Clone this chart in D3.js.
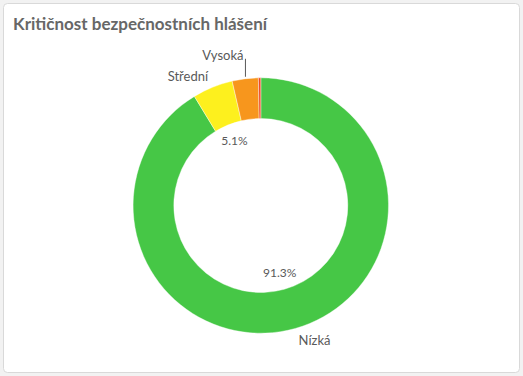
<!DOCTYPE html>
<html><head><meta charset="utf-8">
<script src="https://cdn.jsdelivr.net/npm/d3@7"></script>
<style>
html,body{margin:0;padding:0;background:#f2f2f2;}
svg{display:block;}
</style></head>
<body>
<svg id="chart" width="523" height="376"></svg>
<script>
const categories = ["Nízká", "Střední", "Vysoká", "Kritická"];
const values = [91.3, 5.1, 3.3, 0.3];
const colors = ["#46c746", "#fdf01e", "#f7961d", "#ee4a22"];
const valueLabels = ["91.3%", "5.1%", "", ""];
const showName = [true, true, true, false];
const title = "Kritičnost bezpečnostních hlášení";

const svg = d3.select("#chart");
svg.append("rect").attr("x", 3.5).attr("y", 3.5).attr("width", 516).attr("height", 369)
  .attr("rx", 4).attr("fill", "#fff").attr("stroke", "#d9d9d9");

svg.append("text").attr("x", 13).attr("y", 29.5).text(title)
  .attr("font-family", "Lato, 'Open Sans', sans-serif").attr("font-weight", 700)
  .attr("font-size", 17).attr("fill", "#676767");

const cx = 260.8, cy = 205.5, R = 127.7, r0 = 87;
const g = svg.append("g").attr("transform", `translate(${cx},${cy})`);

const data = categories.map((c, i) => ({name: c, value: values[i], color: colors[i], vlabel: valueLabels[i], show: showName[i]}));
const pie = d3.pie().value(d => d.value).sort(null).startAngle(0).endAngle(2 * Math.PI);
const arcs = pie(data);
const arc = d3.arc().innerRadius(r0).outerRadius(R);

g.selectAll("path.slice").data(arcs).join("path").attr("class", "slice")
  .attr("d", arc).attr("fill", d => d.data.color)
  .attr("stroke", "#fff").attr("stroke-width", 0.4);

const font = "Lato, 'Open Sans', sans-serif";
const labelColor = "#595959";
const pt = (a, rr) => [rr * Math.sin(a), -rr * Math.cos(a)];

// inner value labels
arcs.forEach(d => {
  if (!d.data.vlabel) return;
  const m = (d.startAngle + d.endAngle) / 2;
  const [x, y] = pt(m, 70);
  g.append("text").attr("x", x).attr("y", y).attr("text-anchor", "middle")
    .attr("dominant-baseline", "central").attr("font-family", font)
    .attr("font-size", 12).attr("fill", labelColor).text(d.data.vlabel);
});

// outer name labels
arcs.forEach(d => {
  if (!d.data.show) return;
  const m = (d.startAngle + d.endAngle) / 2;
  if (d.data.name === "Vysoká") {
    const [x0, y0] = pt(m, R + 2);
    g.append("line").attr("x1", x0 + 0.5).attr("y1", y0).attr("x2", x0 + 0.5).attr("y2", y0 - 18)
      .attr("stroke", "#595959").attr("stroke-width", 1);
    g.append("text").attr("x", x0 - 1.5).attr("y", y0 - 22).attr("text-anchor", "end")
      .attr("dominant-baseline", "central").attr("font-family", font)
      .attr("font-size", 13).attr("fill", labelColor).text(d.data.name);
    return;
  }
  const [x, y] = pt(m, 140);
  const right = Math.sin(m) >= 0;
  g.append("text").attr("x", x).attr("y", y).attr("text-anchor", right ? "start" : "end")
    .attr("dominant-baseline", "central").attr("font-family", font)
    .attr("font-size", 13).attr("fill", labelColor).text(d.data.name);
});
</script>
</body></html>
